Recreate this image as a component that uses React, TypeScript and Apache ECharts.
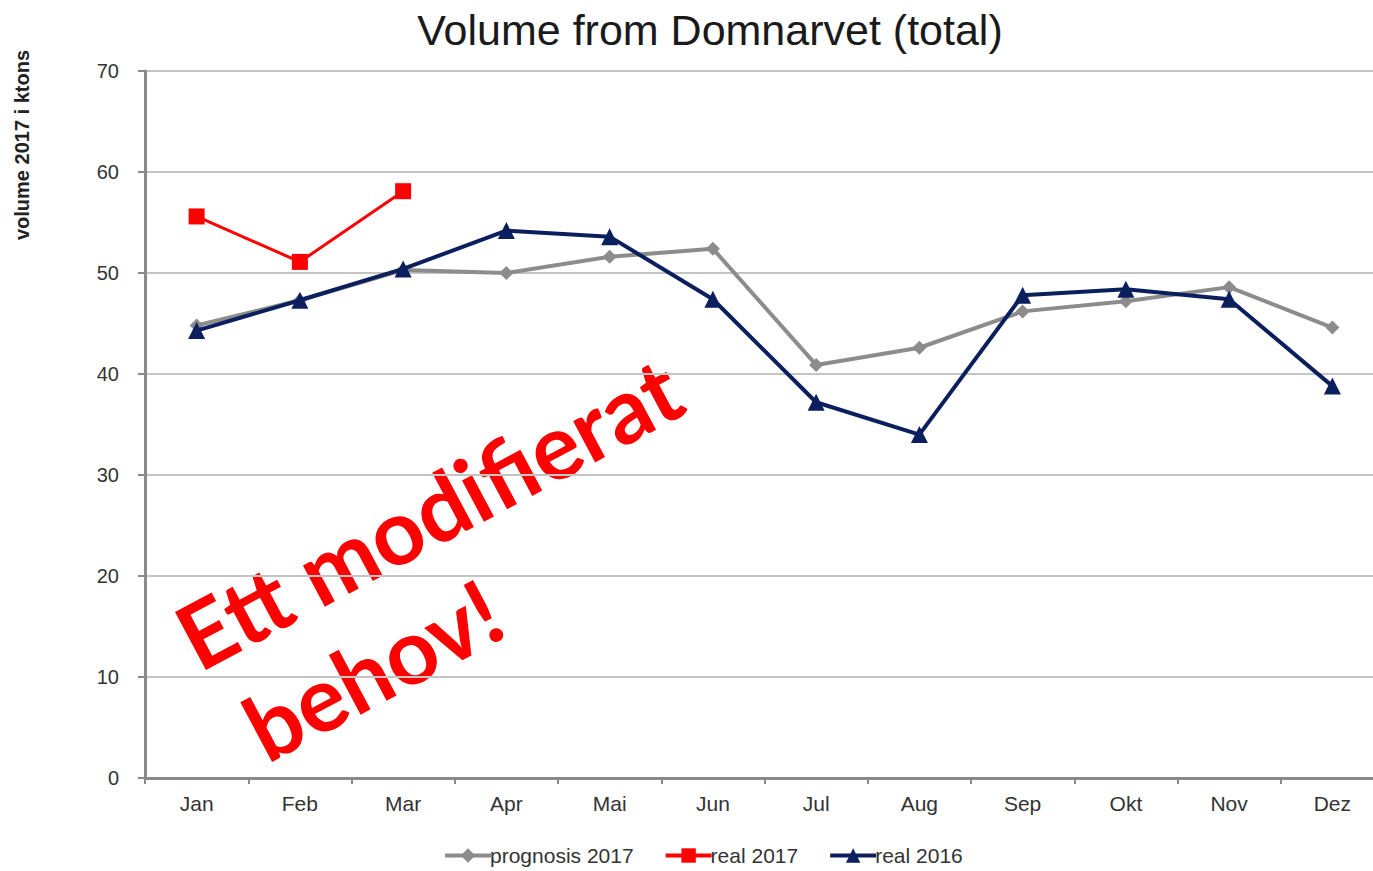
import React, { useEffect, useRef } from "react";
import * as echarts from "echarts";

const months = ["Jan", "Feb", "Mar", "Apr", "Mai", "Jun", "Jul", "Aug", "Sep", "Okt", "Nov", "Dez"];
const prognosis2017 = [44.8, 47.3, 50.3, 50.0, 51.6, 52.4, 40.9, 42.6, 46.2, 47.2, 48.6, 44.6];
const real2017 = [55.6, 51.1, 58.1, null, null, null, null, null, null, null, null, null];
const real2016 = [44.3, 47.3, 50.4, 54.2, 53.6, 47.4, 37.2, 34.0, 47.8, 48.4, 47.4, 38.8];

export default function App() {
  const ref = useRef<HTMLDivElement>(null);
  useEffect(() => {
    const chart = echarts.init(ref.current!, null, { renderer: "svg" });
    const font = "Liberation Sans, Arial, sans-serif";
    const noteFont = "Lato, Open Sans, sans-serif";
    const angle = 0.49;
    chart.setOption({
      animation: false,
      backgroundColor: "#ffffff",
      title: {
        text: "Volume from Domnarvet (total)",
        left: 705,
        textAlign: "center",
        top: 3,
        textStyle: { fontFamily: font, fontSize: 43, fontWeight: "normal", color: "#1a1a1a" },
      },
      grid: { left: 145, right: 0, top: 71, bottom: 93, containLabel: false },
      legend: {
        bottom: 0,
        left: 438,
        itemWidth: 46,
        itemHeight: 18,
        itemGap: 30,
        lineStyle: { width: 4 },
        textStyle: { fontFamily: font, fontSize: 21, color: "#333", padding: [0, 0, 0, -6] },
        data: ["prognosis 2017", "real 2017", "real 2016"],
      },
      xAxis: {
        type: "category",
        data: months,
        boundaryGap: true,
        axisLine: { lineStyle: { color: "#8a8a8a", width: 3 } },
        axisTick: { show: true, length: 6, lineStyle: { color: "#8a8a8a", width: 2 } },
        axisLabel: { fontFamily: font, fontSize: 21, color: "#333", margin: 15 },
      },
      yAxis: {
        type: "value",
        min: 0,
        max: 70,
        interval: 10,
        axisLine: { show: true, lineStyle: { color: "#8a8a8a", width: 3 } },
        axisTick: { show: true, length: 7, lineStyle: { color: "#8a8a8a", width: 2 } },
        axisLabel: { fontFamily: font, fontSize: 20, color: "#333", margin: 26 },
        splitLine: { lineStyle: { color: "#c4c4c4", width: 2 } },
      },
      series: [
        {
          name: "prognosis 2017",
          type: "line",
          data: prognosis2017,
          symbol: "diamond",
          symbolSize: 14,
          lineStyle: { color: "#8c8c8c", width: 4 },
          itemStyle: { color: "#8c8c8c" },
          z: 2,
        },
        {
          name: "real 2017",
          type: "line",
          data: real2017,
          symbol: "rect",
          symbolSize: 16,
          lineStyle: { color: "#ff0000", width: 3 },
          itemStyle: { color: "#ff0000" },
          z: 4,
        },
        {
          name: "real 2016",
          type: "line",
          data: real2016,
          symbol: "triangle",
          symbolSize: 17,
          lineStyle: { color: "#0b1f5e", width: 4 },
          itemStyle: { color: "#0b1f5e" },
          z: 3,
        },
      ],
      graphic: [
        {
          type: "text",
          x: 22,
          y: 145,
          rotation: Math.PI / 2,
          style: {
            text: "volume 2017 i ktons",
            fontFamily: font,
            fontSize: 20,
            fontWeight: "bold",
            fill: "#222",
            align: "center",
            verticalAlign: "middle",
          },
        },
        {
          type: "group",
          x: 196,
          y: 667,
          rotation: angle,
          z: 100,
          children: [
            {
              type: "text",
              x: 0,
              y: -28,
              style: {
                text: "Ett modifierat",
                fontFamily: noteFont,
                fontSize: 91,
                fontWeight: "bold",
                fill: "#ff0000",
                align: "left",
                verticalAlign: "middle",
              },
            },
            {
              type: "text",
              x: 17,
              y: 84,
              style: {
                text: "behov!",
                fontFamily: noteFont,
                fontSize: 91,
                fontWeight: "bold",
                fill: "#ff0000",
                align: "left",
                verticalAlign: "middle",
              },
            },
          ],
        },
      ],
    });
    return () => chart.dispose();
  }, []);
  return (
    <div style={{ width: 1373, height: 871, position: "absolute", left: 0, top: 0, overflow: "hidden" }}>
      <div ref={ref} style={{ width: 1384, height: 871 }} />
    </div>
  );
}
